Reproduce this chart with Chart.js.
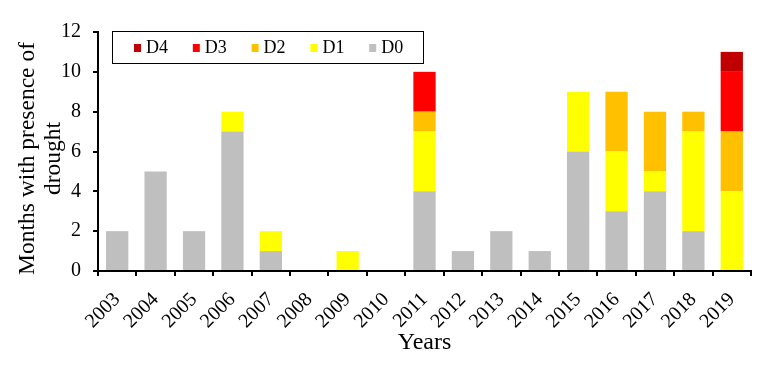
<!DOCTYPE html>
<html>
<head>
<meta charset="utf-8">
<script src="https://cdn.jsdelivr.net/npm/chart.js@4"></script>
<style>
  html, body { margin: 0; padding: 0; background: #fff; }
</style>
</head>
<body>
<canvas id="droughtChart" width="777" height="372"></canvas>
<script>
var years = ['2003', '2004', '2005', '2006', '2007', '2008', '2009', '2010', '2011',
             '2012', '2013', '2014', '2015', '2016', '2017', '2018', '2019'];
var d0 = [2, 5, 2, 7, 1, 0, 0, 0, 4, 1, 2, 1, 6, 3, 4, 2, 0];
var d1 = [0, 0, 0, 1, 1, 0, 1, 0, 3, 0, 0, 0, 3, 3, 1, 5, 4];
var d2 = [0, 0, 0, 0, 0, 0, 0, 0, 1, 0, 0, 0, 0, 3, 3, 1, 3];
var d3 = [0, 0, 0, 0, 0, 0, 0, 0, 2, 0, 0, 0, 0, 0, 0, 0, 3];
var d4 = [0, 0, 0, 0, 0, 0, 0, 0, 0, 0, 0, 0, 0, 0, 0, 0, 1];
var yTicks = [0, 2, 4, 6, 8, 10, 12];
var yTitle = ['Months with presence of', 'drought'];

var serif = "'Liberation Serif', 'Times New Roman', serif";
Chart.defaults.font.family = serif;
Chart.defaults.color = '#000';

// boxed legend inside the plot (reversed order) + the two-line y title
var extras = {
  id: 'extras',
  afterDraw: function(chart) {
    var c = chart.ctx;
    var a = chart.chartArea;
    var x0 = a.left + 14, y0 = a.top - 1, w = 311, h = 32;
    c.save();
    c.strokeStyle = '#000';
    c.lineWidth = 1;
    c.strokeRect(x0 + 0.5, y0 + 0.5, w, h);
    c.font = '18px ' + serif;
    c.textBaseline = 'middle';
    var x = x0 + 22;
    var cy = y0 + h / 2 + 1;
    chart.data.datasets.slice().reverse().forEach(function(ds) {
      c.fillStyle = ds.backgroundColor;
      c.fillRect(x, cy - 4, 7, 8);
      c.fillStyle = '#000';
      c.fillText(ds.label, x + 12, cy);
      x += 58.8;
    });
    c.restore();

    // y axis title, sits a bit below the plot middle in the original
    c.save();
    c.font = '23.5px ' + serif;
    c.fillStyle = '#000';
    c.textAlign = 'center';
    c.textBaseline = 'middle';
    c.translate(28, (a.top + a.bottom) / 2 + 7);
    c.rotate(-Math.PI / 2);
    yTitle.forEach(function(line, i) {
      c.fillText(line, 0, i * 26);
    });
    c.restore();
  }
};

new Chart(document.getElementById('droughtChart'), {
  type: 'bar',
  data: {
    labels: years,
    datasets: [
      { label: 'D0', data: d0, backgroundColor: '#bfbfbf' },
      { label: 'D1', data: d1, backgroundColor: '#ffff00' },
      { label: 'D2', data: d2, backgroundColor: '#ffc000' },
      { label: 'D3', data: d3, backgroundColor: '#ff0000' },
      { label: 'D4', data: d4, backgroundColor: '#c00000' }
    ]
  },
  options: {
    responsive: false,
    animation: false,
    categoryPercentage: 1,
    barPercentage: 0.58,
    layout: { padding: { top: 32, right: 26, left: 0, bottom: 0 } },
    plugins: {
      legend: { display: false },
      tooltip: { enabled: false }
    },
    scales: {
      x: {
        stacked: true,
        grid: { drawOnChartArea: false, color: '#000', lineWidth: 2, tickLength: 5 },
        border: { color: '#000', width: 2 },
        ticks: { font: { size: 20 }, minRotation: 45, maxRotation: 45, padding: 12 },
        title: { display: true, text: 'Years', font: { size: 24 }, padding: { top: 0, bottom: 15 } },
        afterFit: function(s) { s.height = 101; }
      },
      y: {
        stacked: true,
        min: 0,
        max: 12,
        afterBuildTicks: function(s) { s.ticks = yTicks.map(function(v) { return { value: v }; }); },
        grid: { drawOnChartArea: false, color: '#000', lineWidth: 2, tickLength: 5 },
        border: { color: '#000', width: 2 },
        ticks: { font: { size: 20 }, padding: 12 },
        afterFit: function(s) { s.width = 98; }
      }
    }
  },
  plugins: [extras]
});
</script>
</body>
</html>
